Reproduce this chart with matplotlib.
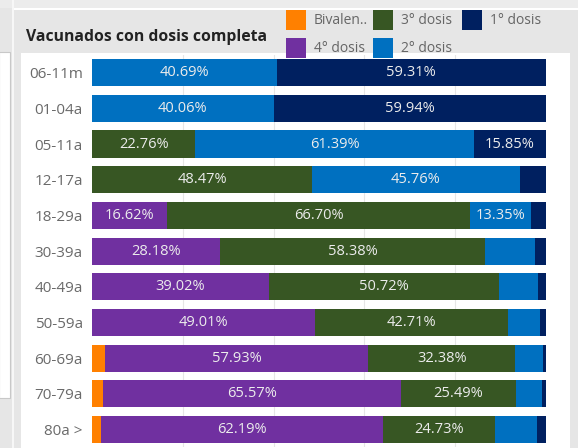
import matplotlib
matplotlib.use("Agg")
import matplotlib.pyplot as plt
from matplotlib.patches import Rectangle
import numpy as np

plt.rcParams['font.family'] = ['Open Sans', 'DejaVu Sans']

categories = ["06-11m", "01-04a", "05-11a", "12-17a", "18-29a", "30-39a",
              "40-49a", "50-59a", "60-69a", "70-79a", "80a >"]
series_names = ["Bivalen..", "4° dosis", "3° dosis", "2° dosis", "1° dosis"]
bivalente = [0, 0, 0, 0, 0, 0, 0, 0, 2.90, 2.40, 1.90]
dosis4 = [0, 0, 0, 0, 16.62, 28.18, 39.02, 49.01, 57.93, 65.57, 62.19]
dosis3 = [0, 0, 22.76, 48.47, 66.70, 58.38, 50.72, 42.71, 32.38, 25.49, 24.73]
dosis2 = [40.69, 40.06, 61.39, 45.76, 13.35, 11.00, 8.50, 6.85, 6.10, 5.70, 9.30]
dosis1 = [59.31, 59.94, 15.85, 5.77, 3.33, 2.44, 1.76, 1.43, 0.69, 0.84, 1.88]
series_values = [bivalente, dosis4, dosis3, dosis2, dosis1]
colors = ["#FF8000", "#7030A0", "#375623", "#0070C0", "#002060"]
title = "Vacunados con dosis completa"

W, H = 578, 448
fig = plt.figure(figsize=(W / 100, H / 100), dpi=100)
fig.patch.set_facecolor("#e6e6e6")

# background / dashboard chrome (pixel coords)
bg = fig.add_axes([0, 0, 1, 1], zorder=-5)
bg.set_xlim(0, W)
bg.set_ylim(H, 0)
bg.axis("off")
bg.add_patch(Rectangle((0, 0), W, 8, color="#ececec", lw=0))
bg.add_patch(Rectangle((14, 8.5), W, 1.2, color="white", lw=0))
bg.add_patch(Rectangle((11.5, 0), 2, H, color="#f7f7f7", lw=0))
bg.add_patch(Rectangle((-1, 52.5), 11, 345.5, facecolor="white", edgecolor="#c8c8c8", lw=0.8))
bg.add_patch(Rectangle((21, 53.5), 549, H, color="white", lw=0))

# main axes
ax = fig.add_axes([92 / W, 0.0015, 454 / W, 0.8761])
ax.set_facecolor("none")
y = np.arange(len(categories))
left = np.zeros(len(categories))
for name, vals, col in zip(series_names, series_values, colors):
    vals = np.array(vals)
    ax.barh(y, vals, left=left, height=0.76, color=col, label=name, zorder=2)
    for yi, (l, v) in enumerate(zip(left, vals)):
        if v >= 12:
            ax.text(l + v / 2, yi, f"{v:.2f}%", ha="center", va="center",
                    color="#ececec", fontsize=10.5, zorder=3)
    left = left + vals

ax.set_xlim(0, 100)
ax.set_ylim(len(categories) - 0.5, -0.5)
ax.set_yticks(y)
ax.set_yticklabels(categories, fontsize=11, color="#6a6a6a")
ax.tick_params(axis="y", length=0, pad=6.5)
ax.set_xticks([20, 40, 60, 80])
ax.tick_params(axis="x", length=0, labelbottom=False)
ax.grid(axis="x", color="#e6e6e6", lw=0.8, zorder=0)
ax.set_axisbelow(True)
for s in ax.spines.values():
    s.set_visible(False)

# title
fig.text(26 / W, 1 - 41 / H, title, fontsize=11.3, fontweight="bold",
         color="#222222", va="baseline", ha="left")

# legend (column-major: Biv/4°, 3°/2°, 1°)
col_x = [286, 373, 462]
row_y = [10, 38]
for i, (name, col) in enumerate(zip(series_names, colors)):
    cx = col_x[i // 2]
    ry = row_y[i % 2]
    bg.add_patch(Rectangle((cx, ry), 20, 20, color=col, lw=0, zorder=10))
    bg.text(cx + 28, ry + 10, name, fontsize=10, color="#666666",
            va="center", ha="left", zorder=10)

fig.savefig("out.png", dpi=100, facecolor=fig.get_facecolor())
